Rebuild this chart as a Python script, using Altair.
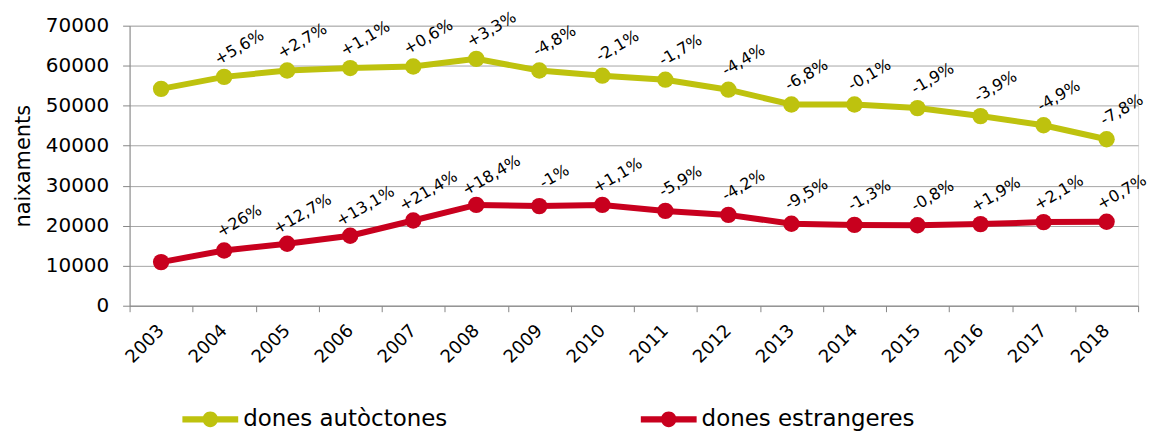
import altair as alt
import pandas as pd

years = [str(y) for y in range(2003, 2019)]
autoctones = [54200, 57200, 58800, 59400, 59800, 61700, 58800, 57500,
              56500, 54000, 50300, 50300, 49400, 47400, 45100, 41600]
estrangeres = [10900, 13800, 15500, 17500, 21300, 25200, 24900, 25200,
               23700, 22700, 20500, 20200, 20100, 20400, 20900, 21000]
labels_aut = ["", "+5,6%", "+2,7%", "+1,1%", "+0,6%", "+3,3%", "-4,8%", "-2,1%",
              "-1,7%", "-4,4%", "-6,8%", "-0,1%", "-1,9%", "-3,9%", "-4,9%", "-7,8%"]
labels_est = ["", "+26%", "+12,7%", "+13,1%", "+21,4%", "+18,4%", "-1%", "+1,1%",
              "-5,9%", "-4,2%", "-9,5%", "-1,3%", "-0,8%", "+1,9%", "+2,1%", "+0,7%"]
series_names = ["dones autòctones", "dones estrangeres"]
colors = ["#BEC20E", "#C8001E"]

rows = []
for i, y in enumerate(years):
    rows.append({"any": y, "serie": series_names[0], "valor": autoctones[i], "etiqueta": labels_aut[i]})
    rows.append({"any": y, "serie": series_names[1], "valor": estrangeres[i], "etiqueta": labels_est[i]})
df = pd.DataFrame(rows)

FONT = "DejaVu Sans"

x_enc = alt.X("any:O", bandPosition=0.5,
              scale=alt.Scale(type="band", paddingInner=0, paddingOuter=0),
              axis=alt.Axis(title=None, labelAngle=-45, labelFontSize=18, labelFont=FONT,
                            labelColor="#000000", tickBand="extent", tickSize=6,
                            domainColor="#868686", tickColor="#868686", labelPadding=16,
                            labelAlign="right", labelBaseline="middle", grid=False))
y_enc = alt.Y("valor:Q", scale=alt.Scale(domain=[0, 70000], nice=False),
              axis=alt.Axis(title="naixaments", titleFontSize=21, titleFont=FONT,
                            titleFontWeight="normal", titleColor="#000000", titlePadding=12,
                            values=list(range(0, 70001, 10000)), format="d",
                            labelFontSize=20, labelFont=FONT, labelColor="#000000", tickSize=7,
                            domainColor="#868686", tickColor="#868686", gridColor="#A6A6A6",
                            gridWidth=1, labelPadding=14))
legend_path = ("M-1,-0.11 L1,-0.11 L1,0.11 L-1,0.11 Z "
               "M-0.28,0 A0.28,0.28 0 1,1 0.28,0 A0.28,0.28 0 1,1 -0.28,0 Z")
color_enc = alt.Color("serie:N", scale=alt.Scale(domain=series_names, range=colors),
                      legend=alt.Legend(title=None, orient="none", direction="horizontal",
                                        legendX=53, legendY=367, columnPadding=194,
                                        symbolType=legend_path, symbolSize=3136,
                                        symbolStrokeWidth=0, symbolOffset=0,
                                        labelFontSize=23, labelFont=FONT, labelColor="#000000",
                                        labelOffset=5, labelLimit=400))

base = alt.Chart(df)
lines = base.mark_line(strokeWidth=6).encode(x=x_enc, y=y_enc, color=color_enc)
points = base.mark_circle(size=270, opacity=1).encode(
    x=x_enc, y=y_enc,
    color=alt.Color("serie:N", scale=alt.Scale(domain=series_names, range=colors), legend=None))
texts = base.mark_text(angle=330, fontSize=16, font=FONT, color="#000000",
                       dx=28, dy=-18, align="center", baseline="middle").encode(
    x=x_enc, y=y_enc, text="etiqueta:N")

chart = alt.layer(lines, points, texts).properties(
    width=1012, height=281,
    autosize=alt.AutoSizeParams(type="none"),
    padding={"left": 122, "top": 17, "right": 30, "bottom": 130},
).configure_view(stroke=None).configure(background="#FFFFFF")

chart.save("out.html", embed_options={"renderer": "svg", "actions": False})
